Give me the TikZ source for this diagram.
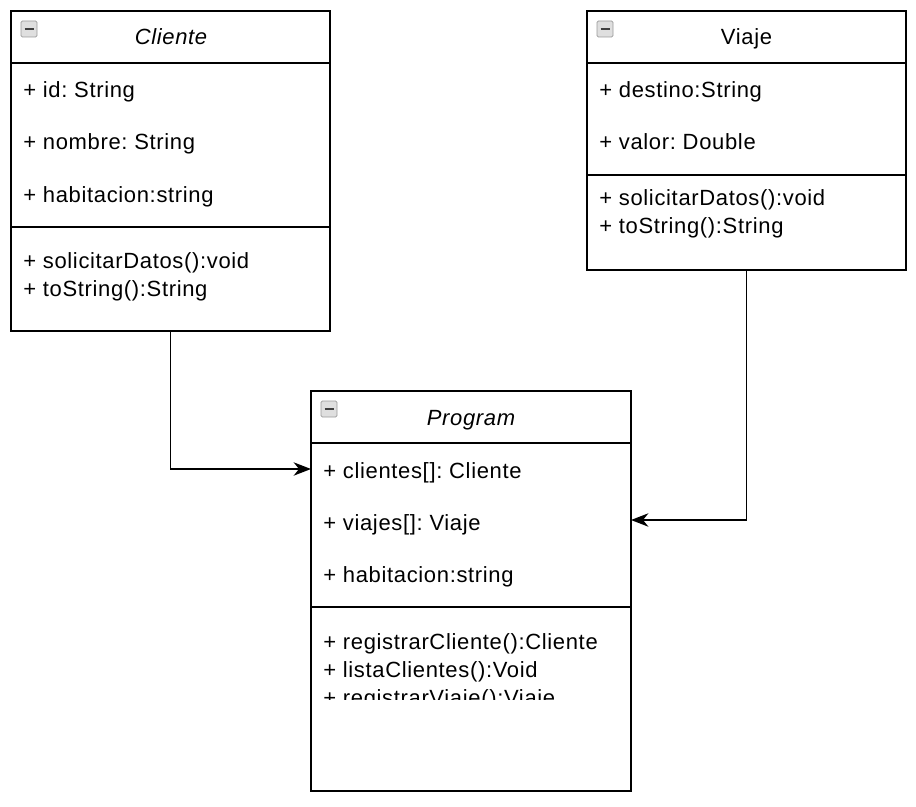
\documentclass[tikz,border=0pt]{standalone}
\usepackage{fontspec}
\setmainfont{Liberation Sans}[LetterSpace=3]
\usetikzlibrary{arrows.meta}
\frenchspacing
\begin{document}
\begin{tikzpicture}[x=0.75pt,y=-0.75pt,
  box/.style={draw, line width=1.2pt, anchor=north west, inner sep=0pt, outer sep=0pt},
  attr/.style={anchor=base west, font=\fontsize{16.5}{18}\selectfont, inner sep=0pt},
  ttl/.style={anchor=base, font=\fontsize{16.5}{18}\selectfont, inner sep=0pt},
  sep/.style={line width=1.2pt},
  conn/.style={line width=1.4pt, -{Stealth[length=13pt,width=10pt,inset=4pt]}},
  iconbox/.style={draw=gray!80, fill=gray!25, line width=0.6pt, rounded corners=1pt},
  iconbar/.style={line width=1.6pt, draw=black!75}]
\useasboundingbox (0,0) rectangle (916,806);

% Cliente
\node[box, minimum width=239.25pt, minimum height=240pt] (cliente) at (11,11) {};
\draw[sep] (11,63) -- (330,63);
\draw[sep] (11,227) -- (330,227);
\draw[iconbox] (21,21) rectangle (37,37);
\draw[iconbar] (24.5,29) -- (33.5,29);
\node[ttl] (clt) at (171,45) {\itshape Cliente};
\node[attr] (c1) at (23,98) {+ id: String};
\node[attr] (c2) at (23,150) {+ nombre: String};
\node[attr] (c3) at (23,202) {+ habitacion:string};
\node[attr] (c4) at (23,268) {+ solicitarDatos():void};
\node[attr] (c5) at (23,296) {+ toString():String};

% Viaje
\node[box, minimum width=239.25pt, minimum height=194.25pt] (viaje) at (587,11) {};
\draw[sep] (587,63) -- (906,63);
\draw[sep] (587,175) -- (906,175);
\draw[iconbox] (597,21) rectangle (613,37);
\draw[iconbar] (600.5,29) -- (609.5,29);
\node[ttl] (vt) at (746.5,45) {Viaje};
\node[attr] (v1) at (599,98) {+ destino:String};
\node[attr] (v2) at (599,150) {+ valor: Double};
\node[attr] (v3) at (599,205) {+ solicitarDatos():void};
\node[attr] (v4) at (599,233) {+ toString():String};

% Program
\node[box, minimum width=240pt, minimum height=300pt] (program) at (311,391) {};
\draw[sep] (311,443) -- (631,443);
\draw[sep] (311,607) -- (631,607);
\draw[iconbox] (321,401) rectangle (337,417);
\draw[iconbar] (324.5,409) -- (333.5,409);
\node[ttl] (pt) at (471,425) {\itshape Program};
\node[attr] (p1) at (323,478) {+ clientes[]: Cliente};
\node[attr] (p2) at (323,530) {+ viajes[]: Viaje};
\node[attr] (p3) at (323,582) {+ habitacion:string};
\begin{scope}
  \clip (312,615) rectangle (630,699);
  \node[attr] (p4) at (323,649) {+ registrarCliente():Cliente};
  \node[attr] (p5) at (323,677) {+ listaClientes():Void};
  \node[attr] (p6) at (323,705) {+ registrarViaje():Viaje};
\end{scope}

% Connectors
\draw[conn] (cliente.south) |- ([yshift=-58.5pt]program.north west);
\draw[conn] (viaje.south) |- ([yshift=-96.75pt]program.north east);
\end{tikzpicture}
\end{document}
